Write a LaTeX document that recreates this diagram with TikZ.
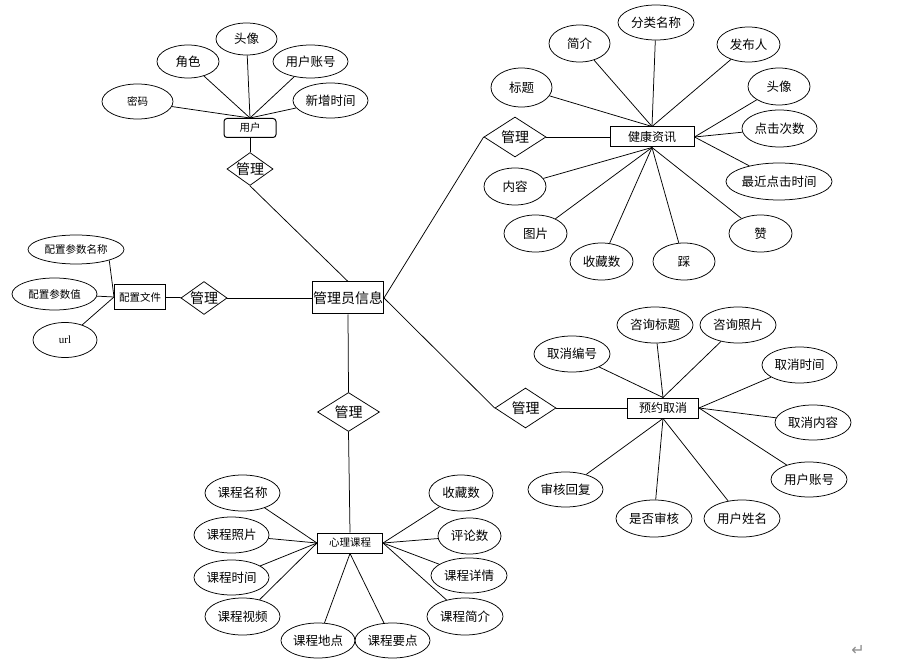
\documentclass[tikz,border=0pt]{standalone}
\usepackage{fontspec}
\setmainfont{Noto Sans CJK SC}
\newfontfamily\latinserif{Liberation Serif}
\newfontfamily\symfont{DejaVu Sans}
\usetikzlibrary{shapes.geometric}

\tikzset{every picture/.style={line width=0.75pt}}
\tikzset{
  attr/.style={draw, ellipse, inner sep=0pt, minimum width=63, minimum height=36, font=\fontsize{12.5}{12.5}\selectfont},
  relbox/.style={draw, diamond, aspect=1.4, inner sep=0pt, font=\fontsize{14}{14}\selectfont},
  entbox/.style={draw, line width=1pt, inner sep=0pt, minimum height=20, font=\fontsize{12}{12}\selectfont},
  smalltext/.style={font=\fontsize{10.5}{10.5}\selectfont}
}

\begin{document}
\begin{tikzpicture}[x=1pt,y=1pt,yscale=-1,xscale=1]
\useasboundingbox (0,0) rectangle (913,660);

% Centre entity
\node[entbox, minimum width=71, minimum height=32, font=\fontsize{14}{14}\selectfont] (admin) at (348,298) {管理员信息};

%User cluster
\node[entbox, rounded corners=3pt, minimum width=52, minimum height=19, smalltext] (user) at (250,128) {用户};
\node[relbox] (mgru) at (250,169) {管理};
\node[attr, minimum width=71, minimum height=35, smalltext] (upwd) at (137.5,101.5) {密码};
\node[attr, minimum width=62, minimum height=33] (urole) at (188,61.5) {角色};
\node[attr, minimum width=61, minimum height=32] (uhead) at (246.5,39) {头像};
\node[attr, minimum width=75, minimum height=33] (uacct) at (310.5,61.5) {用户账号};
\node[attr, minimum width=75, minimum height=35] (uadd) at (330.5,100.5) {新增时间};
\draw (upwd) -- (user.north);
\draw (urole) -- (user.north);
\draw (uhead) -- (user.north);
\draw (uacct) -- (user.north);
\draw (uadd) -- (user.north);
\draw (user) -- (mgru);
\draw (mgru.south) -- (admin.north);

%Config cluster
\node[entbox, minimum width=51, minimum height=25, smalltext] (cfg) at (140,297) {配置文件};
\node[relbox, minimum width=43, minimum height=27] (mgrc) at (204,298) {管理};
\node[attr, minimum width=96, minimum height=29, smalltext] (cname) at (76,249.5) {配置参数名称};
\node[attr, minimum width=85, minimum height=32, smalltext] (cval) at (54.5,294) {配置参数值};
\node[attr, minimum width=64, minimum height=35, font=\latinserif\fontsize{11}{11}\selectfont] (curl) at (65,340) {url};
\draw (cname.-18) -- (cfg.west);
\draw (cval) -- (cfg.west);
\draw (curl) -- (cfg.west);
\draw (cfg) -- (mgrc);
\draw (mgrc) -- (admin);

%Health news cluster
\node[entbox, minimum width=84] (news) at (652,137) {健康资讯};
\node[relbox, minimum width=62, minimum height=40] (mgrn) at (515,137) {管理};
\node[attr, minimum width=61, minimum height=39] (ntitle) at (521.5,87.5) {标题};
\node[attr, minimum width=61, minimum height=37] (nbrief) at (579.5,43.5) {简介};
\node[attr, minimum width=76, minimum height=35] (ncat) at (656,22.5) {分类名称};
\node[attr, minimum width=63, minimum height=35] (nauth) at (748.5,44.5) {发布人};
\node[attr, minimum width=62, minimum height=37] (nhead) at (779,86.5) {头像};
\node[attr, minimum width=75, minimum height=37] (nclick) at (779.5,128.5) {点击次数};
\node[attr, minimum width=100, minimum height=37] (nlast) at (779,181.5) {最近点击时间};
\node[attr, minimum width=63, minimum height=37] (nup) at (760.5,233.5) {赞};
\node[attr, minimum width=62, minimum height=37] (ndown) at (684,261.5) {踩};
\node[attr, minimum width=63, minimum height=37] (nfav) at (601.5,261.5) {收藏数};
\node[attr, minimum width=63, minimum height=37] (npic) at (535.5,233.5) {图片};
\node[attr, minimum width=62, minimum height=37] (ntext) at (515,186.5) {内容};
\draw (admin.east) -- (mgrn.west);
\draw (mgrn) -- (news);
\draw (ntitle) -- (news.north);
\draw (nbrief) -- (news.north);
\draw (ncat) -- (news.north);
\draw (nauth) -- (news.north);
\draw (nhead) -- (news.east);
\draw (nclick) -- (news.east);
\draw (nlast) -- (news.east);
\draw (nup) -- (news.south);
\draw (ndown) -- (news.south);
\draw (nfav) -- (news.south);
\draw (npic) -- (news.south);
\draw (ntext) -- (news.south);

%Cancellation cluster
\node[entbox, minimum width=71] (cancel) at (663,408) {预约取消};
\node[relbox, minimum width=61, minimum height=40] (mgrk) at (525.5,408) {管理};
\node[attr, minimum width=76, minimum height=36] (kno) at (572,354) {取消编号};
\node[attr, minimum width=76, minimum height=36] (ktitle) at (655,325) {咨询标题};
\node[attr, minimum width=76, minimum height=36] (kpic) at (738,325) {咨询照片};
\node[attr, minimum width=75, minimum height=36] (ktime) at (799.5,365) {取消时间};
\node[attr, minimum width=76, minimum height=35] (kcont) at (813,422.5) {取消内容};
\node[attr, minimum width=76, minimum height=35] (kacct) at (809,479.5) {用户账号};
\node[attr, minimum width=76, minimum height=37] (kname) at (742,518.5) {用户姓名};
\node[attr, minimum width=76, minimum height=37] (kchk) at (654,518.5) {是否审核};
\node[attr, minimum width=75, minimum height=35] (kreply) at (565.5,489.5) {审核回复};
\draw (admin.east) -- (mgrk.west);
\draw (mgrk) -- (cancel);
\draw (kno) -- (cancel.north);
\draw (ktitle) -- (cancel.north);
\draw (kpic) -- (cancel.north);
\draw (ktime) -- (cancel.east);
\draw (kcont) -- (cancel.east);
\draw (kacct) -- (cancel.east);
\draw (kname) -- (cancel.south);
\draw (kchk) -- (cancel.south);
\draw (kreply) -- (cancel.south);

%Course cluster
\node[entbox, minimum width=65, smalltext] (course) at (350,543) {心理课程};
\node[relbox, minimum width=62, minimum height=39] (mgrp) at (348.5,412) {管理};
\node[attr, minimum width=75, minimum height=36] (pname) at (242.5,493) {课程名称};
\node[attr, minimum width=75, minimum height=36] (ppic) at (231.5,535) {课程照片};
\node[attr, minimum width=75, minimum height=35] (ptime) at (231.5,577.5) {课程时间};
\node[attr, minimum width=75, minimum height=37] (pvid) at (242.5,616.5) {课程视频};
\node[attr, minimum width=74, minimum height=35] (pplace) at (318,640.5) {课程地点};
\node[attr, minimum width=75, minimum height=35] (pkey) at (392.5,640.5) {课程要点};
\node[attr, minimum width=64, minimum height=36] (pfav) at (461,493) {收藏数};
\node[attr, minimum width=63, minimum height=36] (pcom) at (469.5,536) {评论数};
\node[attr, minimum width=76, minimum height=35] (pdet) at (469,575.5) {课程详情};
\node[attr, minimum width=76, minimum height=37] (pbrief) at (465,616.5) {课程简介};
\draw (admin.south) -- (mgrp.north);
\draw (mgrp.south) -- (course.north);
\draw (pname) -- (course.west);
\draw (ppic) -- (course.west);
\draw (ptime) -- (course.west);
\draw (pvid) -- (course.west);
\draw (pplace) -- (course.south);
\draw (pkey) -- (course.south);
\draw (pfav) -- (course.east);
\draw (pcom) -- (course.east);
\draw (pdet) -- (course.east);
\draw (pbrief) -- (course.east);

% Text Node
\node[text=black!45, font=\symfont\fontsize{16}{16}\selectfont] (pmark) at (858,650) {↵};

\end{tikzpicture}
\end{document}
